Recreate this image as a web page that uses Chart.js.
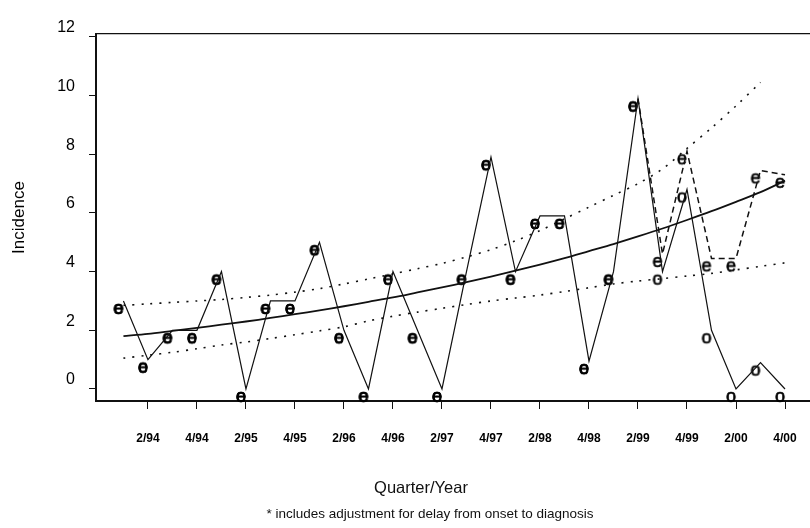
<!DOCTYPE html>
<html>
<head>
<meta charset="utf-8">
<title>Incidence by quarter</title>
<script src="https://cdn.jsdelivr.net/npm/chart.js@4.4.1/dist/chart.umd.min.js"></script>
<style>
html, body { margin: 0; padding: 0; background: #fff; }
#wrap { width: 810px; height: 528px; }
</style>
</head>
<body>
<div id="wrap"><canvas id="incChart" width="810" height="528"></canvas></div>
<script>
let quarters = ['1/94','2/94','3/94','4/94','1/95','2/95','3/95','4/95',
'1/96','2/96','3/96','4/96','1/97','2/97','3/97','4/97',
'1/98','2/98','3/98','4/98','1/99','2/99','3/99','4/99',
'1/00','2/00','3/00','4/00'];

let tickLabels = ['2/94','4/94','2/95','4/95','2/96','4/96','2/97','4/97','2/98','4/98','2/99','4/99','2/00','4/00'];
let yTicks = [0,2,4,6,8,10,12];

// reported cases per quarter (o)
let observed = [3.0,1.0,2.0,2.0,4.0,0,3.0,3.0,5.0,2.0,0,4.0,2.0,0,4.0,7.9,4.0,5.9,5.9,0.95,4.0,9.9,4.0,6.8,2.0,0,0.9,0];

// adjusted for delay (e) - same as reported until 2/99
let adjusted = [3.0,1.0,2.0,2.0,4.0,0,3.0,3.0,5.0,2.0,0,4.0,2.0,0,4.0,7.9,4.0,5.9,5.9,0.95,4.0,9.9,4.6,8.1,4.45,4.45,7.45,7.3];
let adjustStart = 21;

// fitted trend and its band
let trend = [1.80,1.88,1.98,2.08,2.19,2.30,2.42,2.55,2.68,2.82,2.97,3.12,3.29,3.46,3.64,3.83,4.03,4.24,4.46,4.70,4.94,5.20,5.47,5.76,6.06,6.38,6.71,7.10];
let upper = [2.85,2.9,2.95,3.0,3.05,3.12,3.2,3.3,3.42,3.58,3.75,3.92,4.1,4.28,4.5,4.75,5.05,5.4,5.8,6.2,6.6,7.0,7.5,8.2,8.9,9.65,10.45,null];
let lower = [1.05,1.15,1.25,1.37,1.5,1.6,1.72,1.85,1.98,2.12,2.32,2.48,2.62,2.75,2.88,3.0,3.1,3.2,3.32,3.45,3.58,3.68,3.76,3.85,3.94,4.06,4.18,4.3];

const ink = '#111';
const fontFam = '"Liberation Sans", Arial, Helvetica, sans-serif';

function pts(arr, from){
  from = from || 0;
  let out = [];
  arr.forEach((v,i)=>{ if(i >= from && v !== null) out.push({x:i, y:v}); });
  return out;
}

// letter used as plotting symbol; glyph sits a little left and below its point
function glyph(ch){
  let c = document.createElement('canvas');
  c.width = 40; c.height = 40;
  let g = c.getContext('2d');
  g.font = '18px ' + fontFam;
  g.textAlign = 'center';
  g.textBaseline = 'middle';
  g.fillStyle = '#000';
  g.strokeStyle = '#000';
  g.lineWidth = 0.7;
  g.fillText(ch, 15, 28);
  g.strokeText(ch, 15, 28);
  return c;
}

const notes = {
  id: 'notes',
  afterDraw(chart){
    let ctx = chart.ctx;
    ctx.save();
    ctx.fillStyle = ink;
    ctx.textAlign = 'center';
    ctx.textBaseline = 'middle';
    ctx.font = '16.5px ' + fontFam;
    ctx.fillText('Quarter/Year', 421, 488);
    ctx.font = '13.5px ' + fontFam;
    ctx.fillText('* includes adjustment for delay from onset to diagnosis', 430, 514);
    ctx.restore();
  }
};

new Chart(document.getElementById('incChart'), {
  type: 'line',
  data: {
    datasets: [
      { label: 'reported', data: pts(observed), borderColor: ink, borderWidth: 1.2, pointRadius: 0, tension: 0 },
      { label: 'adjusted', data: pts(adjusted, adjustStart), borderColor: ink, borderWidth: 1.5, borderDash: [6,4], pointRadius: 0, tension: 0 },
      { label: 'trend', data: pts(trend), borderColor: ink, borderWidth: 1.8, pointRadius: 0, tension: 0.3 },
      { label: 'upper', data: pts(upper), borderColor: ink, borderWidth: 1.6, borderDash: [2,7], pointRadius: 0, tension: 0.3 },
      { label: 'lower', data: pts(lower), borderColor: ink, borderWidth: 1.6, borderDash: [2,7], pointRadius: 0, tension: 0.3 },
      { label: 'o', data: pts(observed), showLine: false, pointStyle: glyph('o'), pointRadius: 5, clip: false },
      { label: 'e', data: pts(adjusted), showLine: false, pointStyle: glyph('e'), pointRadius: 5, clip: false }
    ]
  },
  options: {
    responsive: false,
    animation: false,
    events: [],
    layout: { autoPadding: false, padding: { top: 34, left: 0, right: 0, bottom: 0 } },
    plugins: { legend: { display: false }, tooltip: { enabled: false } },
    scales: {
      x: {
        type: 'linear',
        min: -1.12,
        max: 28.02,
        afterBuildTicks: s => { s.ticks = tickLabels.map(l => ({ value: quarters.indexOf(l) })); },
        afterFit: s => { s.height = 127; s.paddingLeft = 0; s.paddingRight = 0; },
        ticks: {
          autoSkip: false, maxRotation: 0, padding: 22, color: '#000',
          font: { family: fontFam, size: 12, weight: 'bold' },
          callback: v => quarters[v]
        },
        grid: { drawOnChartArea: false, drawTicks: true, tickLength: 8, color: ink, lineWidth: 1 },
        border: { display: true, color: ink, width: 2 }
      },
      top: {
        type: 'linear',
        position: 'top',
        min: 0, max: 1,
        afterFit: s => { s.height = 0; s.paddingLeft = 0; s.paddingRight = 0; },
        ticks: { display: false },
        grid: { display: false, drawTicks: false },
        border: { display: true, color: ink, width: 1.2 }
      },
      y: {
        min: -0.41,
        max: 12.1,
        afterBuildTicks: s => { s.ticks = yTicks.map(v => ({ value: v })); },
        afterFit: s => { s.width = 96; },
        ticks: { padding: 14, labelOffset: -9, color: '#000', font: { family: fontFam, size: 16 } },
        grid: { drawOnChartArea: false, drawTicks: true, tickLength: 7, color: ink, lineWidth: 1 },
        border: { display: true, color: ink, width: 2 },
        title: { display: true, text: 'Incidence', color: '#000', font: { family: fontFam, size: 17 }, padding: { top: 9 } }
      }
    }
  },
  plugins: [notes]
});
</script>
</body>
</html>
